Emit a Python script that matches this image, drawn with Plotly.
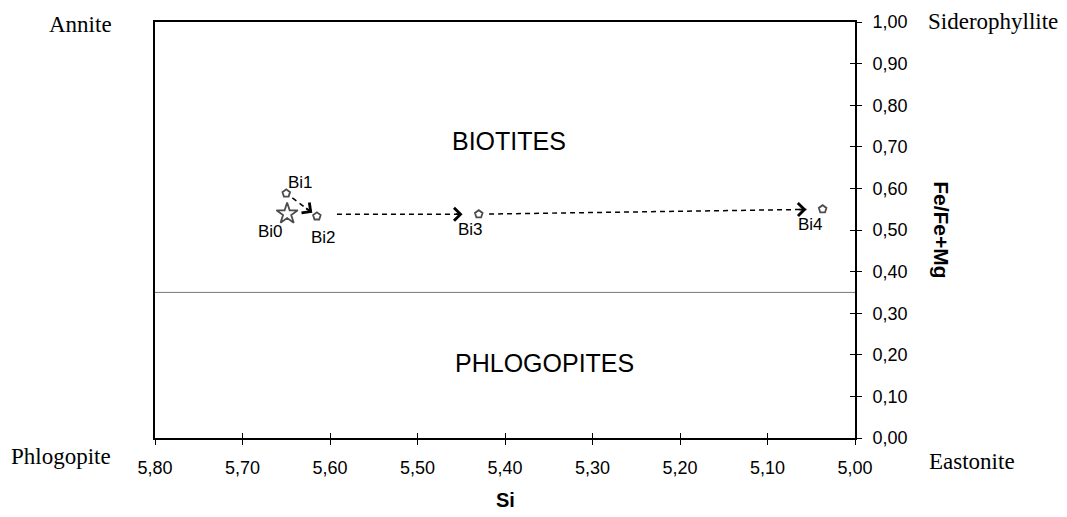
import plotly.graph_objects as go

# ---- data ----
names = ["Bi0", "Bi1", "Bi2", "Bi3", "Bi4"]
si = [5.649, 5.650, 5.615, 5.430, 5.037]
fe_ratio = [0.539, 0.588, 0.533, 0.538, 0.550]
symbols = ["star-open", "pentagon-open", "pentagon-open", "pentagon-open", "pentagon-open"]

# arrows (from index, to index)
arrow_pairs = [(1, 2), (2, 3), (3, 4)]

x_tick_vals = [5.80, 5.70, 5.60, 5.50, 5.40, 5.30, 5.20, 5.10, 5.00]
x_tick_text = ["5,80", "5,70", "5,60", "5,50", "5,40", "5,30", "5,20", "5,10", "5,00"]
y_tick_vals = [0.0, 0.1, 0.2, 0.3, 0.4, 0.5, 0.6, 0.7, 0.8, 0.9, 1.0]
y_tick_text = ["0,00", "0,10", "0,20", "0,30", "0,40", "0,50", "0,60", "0,70", "0,80", "0,90", "1,00"]

boundary = 0.35
field_names = ["BIOTITES", "PHLOGOPITES"]
field_si = [5.395, 5.355]
field_fe = [0.714, 0.18]

corner_names = ["Annite", "Siderophyllite", "Phlogopite", "Eastonite"]

# ---- styling helpers ----
label_shift = {"Bi0": (-17, -18), "Bi1": (14, 11), "Bi2": (7, -21), "Bi3": (-8, -15), "Bi4": (-12, -15)}
arrow_frac = {(1, 2): (0.2, 0.85, 0.25), (2, 3): (0.124, 0.9, 0.05), (3, 4): (0.03, 0.953, 0.025)}
corner_pos = {"Annite": (-0.106, 0.995), "Siderophyllite": (1.197, 1.002),
              "Phlogopite": (-0.134, -0.045), "Eastonite": (1.167, -0.057)}

fig = go.Figure()

# boundary line
fig.add_trace(go.Scatter(x=[x_tick_vals[0], x_tick_vals[-1]], y=[boundary, boundary], mode="lines",
                         line=dict(color="#777777", width=1), showlegend=False, hoverinfo="skip"))

annotations = []
for (a, b) in arrow_pairs:
    f0, f1, ft = arrow_frac[(a, b)]
    dx = si[b] - si[a]
    dy = fe_ratio[b] - fe_ratio[a]
    if (a, b) == (2, 3):
        dy_use = 0.0
        y0 = fe_ratio[a] + 0.005
    else:
        dy_use = dy
        y0 = fe_ratio[a]
    sx, sy = si[a] + f0 * dx, y0 + f0 * dy_use
    ex, ey = si[a] + f1 * dx, y0 + f1 * dy_use
    fig.add_trace(go.Scatter(x=[sx, ex], y=[sy, ey], mode="lines",
                             line=dict(color="black", width=1.5, dash="5px,4px"),
                             showlegend=False, hoverinfo="skip"))
    annotations.append(dict(x=ex, y=ey, ax=ex - ft * dx, ay=ey - ft * dy_use,
                            xref="x", yref="y", axref="x", ayref="y", text="",
                            showarrow=True, arrowhead=4, arrowsize=1.4, arrowwidth=1.8,
                            arrowcolor="black"))

# points
fig.add_trace(go.Scatter(x=si, y=fe_ratio, mode="markers",
                         marker=dict(symbol=symbols, size=[16, 8, 8, 8, 8], color="black",
                                     line=dict(color="black", width=1.8)),
                         showlegend=False))

# invisible trace for overlay axes (crossing ticks)
fig.add_trace(go.Scatter(x=[5.5], y=[0.5], xaxis="x2", yaxis="y2", mode="markers",
                         marker=dict(opacity=0), showlegend=False, hoverinfo="skip"))

for n, x, y in zip(names, si, fe_ratio):
    xs, ys = label_shift[n]
    annotations.append(dict(x=x, y=y, text=n, showarrow=False, xshift=xs, yshift=ys,
                            xanchor="center", yanchor="middle",
                            font=dict(family="Liberation Sans", size=17, color="black")))

for n, x, y in zip(field_names, field_si, field_fe):
    annotations.append(dict(x=x, y=y, text=n, showarrow=False, xanchor="center", yanchor="middle",
                            font=dict(family="Liberation Sans", size=25, color="black")))

for n in corner_names:
    px, py = corner_pos[n]
    annotations.append(dict(x=px, y=py, xref="paper", yref="paper", text=n, showarrow=False,
                            xanchor="center", yanchor="middle",
                            font=dict(family="Liberation Serif", size=23, color="black")))

annotations.append(dict(x=0.5, y=-0.148, xref="paper", yref="paper", text="<b>Si</b>", showarrow=False,
                        xanchor="center", yanchor="middle",
                        font=dict(family="Liberation Sans", size=20, color="black")))
annotations.append(dict(x=1.124, y=0.5, xref="paper", yref="paper", text="<b>Fe/Fe+Mg</b>",
                        showarrow=False, textangle=90, xanchor="center", yanchor="middle",
                        font=dict(family="Liberation Sans", size=21, color="black")))

axis_font = dict(family="Liberation Sans", size=18, color="black")
fig.update_layout(
    width=1067, height=517,
    margin=dict(l=155, r=212, t=18, b=79),
    paper_bgcolor="white", plot_bgcolor="white",
    showlegend=False,
    annotations=annotations,
    xaxis=dict(range=[5.80, 5.00], tickvals=x_tick_vals, ticktext=x_tick_text,
               showgrid=False, zeroline=False, showline=True, linecolor="black", linewidth=1.6,
               mirror=True, ticks="outside", ticklen=5, tickcolor="black", tickwidth=1,
               ticklabelstandoff=8, tickfont=axis_font),
    yaxis=dict(range=[0, 1], side="right", tickvals=y_tick_vals, ticktext=y_tick_text,
               showgrid=False, zeroline=False, showline=True, linecolor="black", linewidth=1.6,
               mirror=True, ticks="outside", ticklen=5, tickcolor="black", tickwidth=1,
               ticklabelstandoff=7, tickfont=axis_font),
    xaxis2=dict(range=[5.80, 5.00], overlaying="x", side="bottom", tickvals=x_tick_vals,
                showticklabels=False, showgrid=False, zeroline=False, showline=False,
                ticks="inside", ticklen=5, tickcolor="black", anchor="y"),
    yaxis2=dict(range=[0, 1], overlaying="y", side="right", tickvals=y_tick_vals,
                showticklabels=False, showgrid=False, zeroline=False, showline=False,
                ticks="inside", ticklen=5, tickcolor="black", anchor="x"),
)

fig.write_html("out.html")
